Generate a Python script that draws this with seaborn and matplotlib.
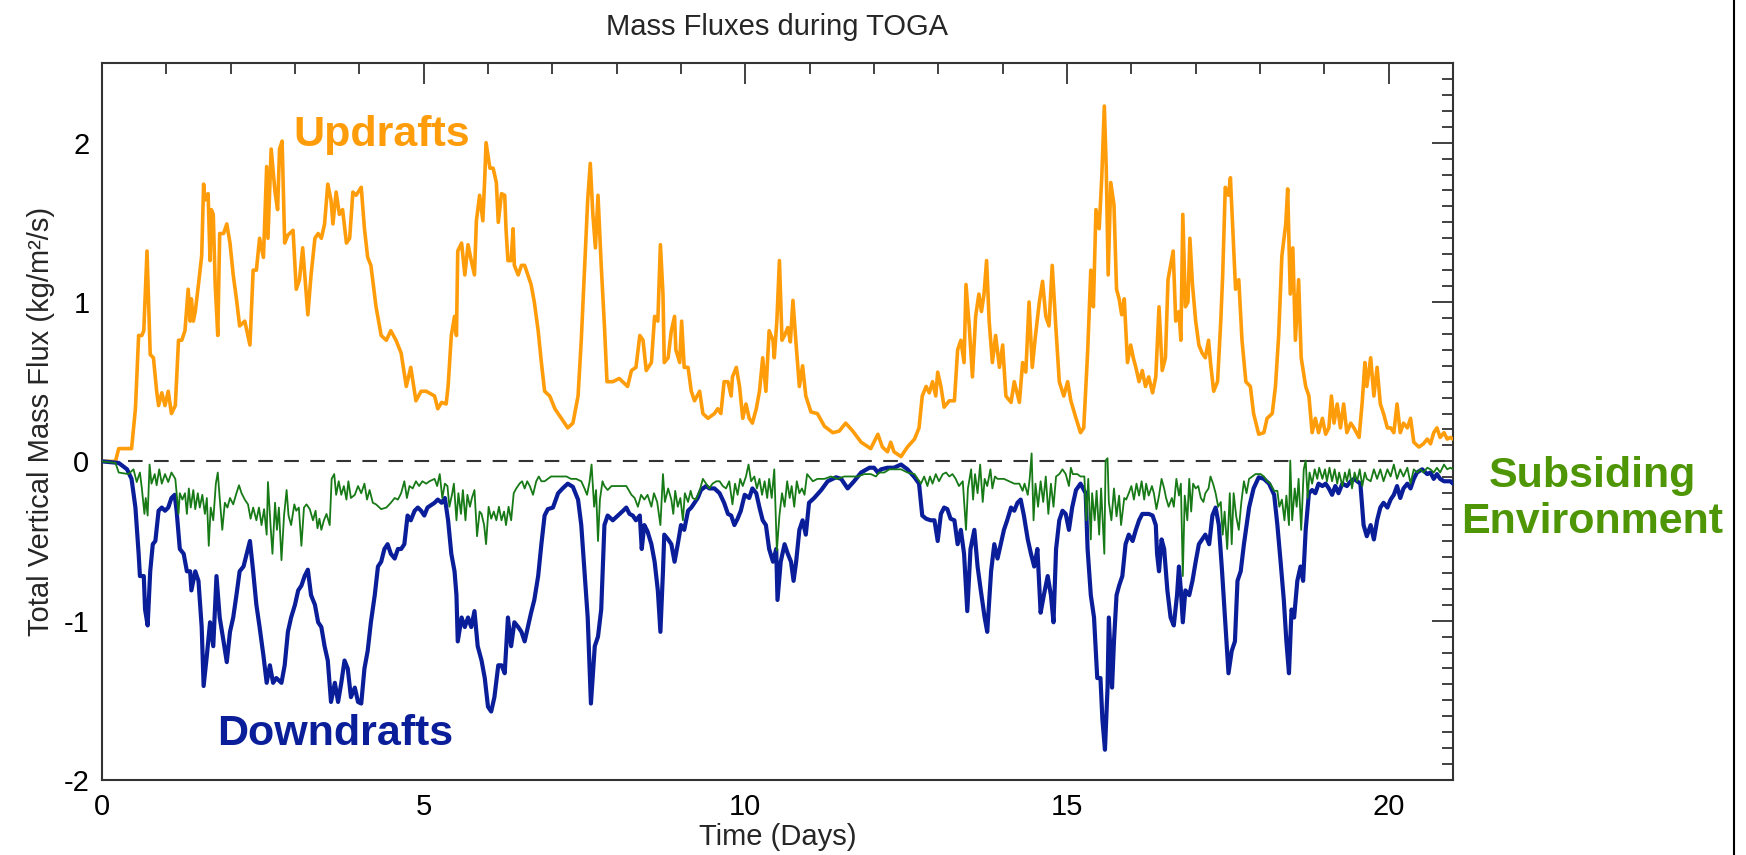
import numpy as np
import pandas as pd
import matplotlib
matplotlib.use('Agg')
import matplotlib.pyplot as plt
from matplotlib.lines import Line2D
from matplotlib.ticker import MultipleLocator
import seaborn as sns

# ============================================================================
# DATA - (day, total vertical mass flux in kg/m^2/s)
# ============================================================================
updrafts = [
    (0.00, 0.00), (0.21, 0.00), (0.26, 0.08), (0.46, 0.08), (0.52, 0.33), (0.57, 0.79), (0.62, 0.79),
    (0.65, 0.82), (0.70, 1.32), (0.75, 0.67), (0.80, 0.65), (0.85, 0.44), (0.88, 0.35), (0.93, 0.43),
    (0.98, 0.35), (1.03, 0.44), (1.08, 0.30), (1.14, 0.35), (1.19, 0.76), (1.24, 0.76), (1.29, 0.82),
    (1.34, 1.08), (1.37, 0.88), (1.39, 1.02), (1.42, 0.88), (1.45, 0.94), (1.50, 1.11), (1.55, 1.29),
    (1.58, 1.74), (1.60, 1.64), (1.65, 1.68), (1.68, 1.26), (1.70, 1.58), (1.73, 1.55), (1.76, 1.11),
    (1.80, 0.79), (1.83, 1.43), (1.89, 1.43), (1.94, 1.49), (1.99, 1.37), (2.04, 1.17), (2.09, 1.02),
    (2.14, 0.85), (2.22, 0.88), (2.30, 0.73), (2.35, 1.20), (2.40, 1.20), (2.45, 1.40), (2.51, 1.28),
    (2.56, 1.85), (2.58, 1.40), (2.63, 1.96), (2.69, 1.69), (2.73, 1.58), (2.76, 1.96), (2.80, 2.01),
    (2.84, 1.37), (2.89, 1.42), (2.97, 1.45), (3.02, 1.08), (3.07, 1.14), (3.12, 1.34), (3.20, 0.92),
    (3.25, 1.17), (3.31, 1.40), (3.36, 1.43), (3.41, 1.40), (3.46, 1.49), (3.51, 1.74), (3.56, 1.64),
    (3.59, 1.49), (3.64, 1.69), (3.69, 1.55), (3.74, 1.58), (3.80, 1.37), (3.85, 1.40), (3.90, 1.69),
    (3.95, 1.67), (4.03, 1.72), (4.08, 1.46), (4.13, 1.28), (4.18, 1.23), (4.26, 0.97), (4.34, 0.79),
    (4.42, 0.76), (4.49, 0.82), (4.57, 0.76), (4.65, 0.68), (4.73, 0.47), (4.80, 0.59), (4.88, 0.38),
    (4.96, 0.44), (5.04, 0.44), (5.17, 0.41), (5.22, 0.33), (5.28, 0.37), (5.35, 0.36), (5.38, 0.47),
    (5.43, 0.79), (5.48, 0.91), (5.51, 0.79), (5.53, 1.32), (5.59, 1.37), (5.64, 1.17), (5.69, 1.36),
    (5.74, 1.26), (5.79, 1.17), (5.82, 1.51), (5.87, 1.67), (5.92, 1.51), (5.95, 1.78), (5.97, 2.00),
    (6.03, 1.84), (6.08, 1.84), (6.13, 1.75), (6.16, 1.50), (6.21, 1.68), (6.26, 1.67), (6.28, 1.46),
    (6.31, 1.26), (6.36, 1.26), (6.39, 1.46), (6.41, 1.23), (6.47, 1.17), (6.52, 1.23), (6.57, 1.23),
    (6.62, 1.17), (6.67, 1.11), (6.72, 1.00), (6.78, 0.82), (6.83, 0.62), (6.88, 0.44), (6.96, 0.41),
    (7.04, 0.33), (7.14, 0.27), (7.24, 0.21), (7.32, 0.24), (7.40, 0.41), (7.45, 0.76), (7.50, 1.20),
    (7.55, 1.64), (7.59, 1.87), (7.63, 1.55), (7.67, 1.34), (7.71, 1.67), (7.76, 1.23), (7.81, 0.85),
    (7.85, 0.50), (7.94, 0.50), (8.04, 0.52), (8.17, 0.47), (8.23, 0.57), (8.30, 0.59), (8.36, 0.79),
    (8.41, 0.76), (8.46, 0.57), (8.54, 0.62), (8.59, 0.91), (8.64, 0.88), (8.68, 1.36), (8.72, 1.05),
    (8.74, 0.62), (8.80, 0.65), (8.85, 0.82), (8.90, 0.91), (8.92, 0.70), (8.98, 0.62), (9.01, 0.88),
    (9.05, 0.59), (9.11, 0.59), (9.16, 0.44), (9.21, 0.38), (9.29, 0.44), (9.34, 0.30), (9.42, 0.27),
    (9.52, 0.30), (9.57, 0.33), (9.62, 0.30), (9.67, 0.50), (9.73, 0.50), (9.78, 0.41), (9.80, 0.53),
    (9.86, 0.59), (9.91, 0.47), (9.96, 0.27), (10.01, 0.36), (10.06, 0.27), (10.11, 0.24), (10.17, 0.33),
    (10.22, 0.44), (10.27, 0.65), (10.32, 0.44), (10.37, 0.82), (10.43, 0.76), (10.45, 0.65), (10.49, 0.88),
    (10.53, 1.26), (10.57, 0.76), (10.61, 0.79), (10.66, 0.84), (10.70, 0.75), (10.74, 1.01), (10.79, 0.73),
    (10.84, 0.47), (10.89, 0.60), (10.94, 0.41), (11.02, 0.31), (11.12, 0.30), (11.23, 0.22), (11.36, 0.18),
    (11.46, 0.19), (11.56, 0.24), (11.67, 0.19), (11.80, 0.12), (11.95, 0.08), (12.06, 0.17), (12.13, 0.09),
    (12.21, 0.06), (12.26, 0.12), (12.31, 0.06), (12.42, 0.03), (12.52, 0.09), (12.63, 0.14), (12.70, 0.21),
    (12.75, 0.41), (12.81, 0.47), (12.86, 0.43), (12.91, 0.50), (12.96, 0.41), (12.99, 0.56), (13.04, 0.47),
    (13.09, 0.34), (13.17, 0.38), (13.25, 0.38), (13.30, 0.70), (13.35, 0.76), (13.40, 0.62), (13.43, 1.11),
    (13.48, 0.85), (13.53, 0.53), (13.58, 0.91), (13.63, 1.05), (13.67, 0.94), (13.71, 1.05), (13.75, 1.26),
    (13.79, 0.88), (13.84, 0.62), (13.89, 0.79), (13.95, 0.59), (14.00, 0.73), (14.05, 0.41), (14.13, 0.37),
    (14.18, 0.50), (14.26, 0.37), (14.31, 0.62), (14.36, 0.56), (14.41, 1.00), (14.46, 0.59), (14.51, 0.79),
    (14.57, 1.00), (14.62, 1.13), (14.67, 0.91), (14.72, 0.85), (14.77, 1.23), (14.83, 0.82), (14.88, 0.50),
    (14.95, 0.41), (15.01, 0.50), (15.06, 0.38), (15.14, 0.27), (15.21, 0.18), (15.26, 0.21), (15.32, 0.68),
    (15.37, 1.20), (15.41, 0.97), (15.45, 1.58), (15.50, 1.46), (15.54, 1.78), (15.58, 2.23), (15.61, 1.84),
    (15.64, 1.17), (15.68, 1.75), (15.73, 1.61), (15.77, 1.08), (15.81, 1.02), (15.85, 0.92), (15.89, 1.02),
    (15.94, 0.62), (15.99, 0.73), (16.03, 0.65), (16.07, 0.59), (16.12, 0.50), (16.17, 0.57), (16.22, 0.47),
    (16.27, 0.53), (16.33, 0.43), (16.38, 0.53), (16.43, 0.97), (16.48, 0.57), (16.53, 0.65), (16.57, 1.14),
    (16.61, 1.23), (16.65, 1.32), (16.69, 0.88), (16.74, 0.94), (16.77, 0.76), (16.80, 1.55), (16.84, 0.97),
    (16.88, 1.00), (16.91, 1.40), (16.95, 1.11), (17.00, 0.88), (17.05, 0.73), (17.10, 0.68), (17.15, 0.65),
    (17.20, 0.76), (17.23, 0.62), (17.28, 0.44), (17.34, 0.50), (17.39, 0.88), (17.42, 1.17), (17.46, 1.72),
    (17.51, 1.67), (17.54, 1.78), (17.58, 1.43), (17.62, 1.08), (17.67, 1.14), (17.72, 0.76), (17.78, 0.50),
    (17.85, 0.47), (17.90, 0.30), (17.98, 0.17), (18.06, 0.18), (18.11, 0.27), (18.19, 0.30), (18.24, 0.47),
    (18.29, 0.79), (18.34, 1.29), (18.40, 1.49), (18.43, 1.71), (18.47, 1.05), (18.51, 1.34), (18.55, 0.76),
    (18.60, 1.14), (18.64, 0.65), (18.71, 0.47), (18.76, 0.41), (18.81, 0.18), (18.86, 0.27), (18.91, 0.18),
    (18.97, 0.27), (19.02, 0.17), (19.07, 0.21), (19.11, 0.41), (19.15, 0.24), (19.20, 0.36), (19.25, 0.21),
    (19.30, 0.36), (19.35, 0.18), (19.41, 0.24), (19.46, 0.21), (19.54, 0.15), (19.59, 0.38), (19.63, 0.62),
    (19.66, 0.47), (19.72, 0.65), (19.77, 0.41), (19.82, 0.59), (19.87, 0.36), (19.92, 0.30), (19.98, 0.21),
    (20.03, 0.21), (20.08, 0.18), (20.13, 0.36), (20.18, 0.18), (20.23, 0.24), (20.29, 0.21), (20.34, 0.27),
    (20.39, 0.12), (20.47, 0.09), (20.54, 0.11), (20.60, 0.14), (20.65, 0.11), (20.70, 0.18), (20.75, 0.21),
    (20.80, 0.15), (20.86, 0.18), (20.91, 0.14), (20.96, 0.15), (21.00, 0.14),
]

downdrafts = [
    (0.00, 0.00), (0.26, -0.01), (0.39, -0.05), (0.46, -0.11), (0.52, -0.29), (0.57, -0.58), (0.59, -0.72),
    (0.65, -0.72), (0.67, -0.93), (0.71, -1.03), (0.75, -0.69), (0.79, -0.52), (0.83, -0.50), (0.88, -0.31),
    (0.93, -0.29), (0.98, -0.31), (1.03, -0.29), (1.08, -0.23), (1.13, -0.21), (1.16, -0.31), (1.21, -0.55),
    (1.27, -0.58), (1.32, -0.69), (1.37, -0.69), (1.39, -0.81), (1.45, -0.69), (1.50, -0.75), (1.55, -1.04),
    (1.58, -1.41), (1.63, -1.22), (1.68, -1.01), (1.73, -1.16), (1.78, -0.72), (1.83, -0.98), (1.89, -1.13),
    (1.94, -1.26), (1.99, -1.07), (2.04, -0.98), (2.09, -0.84), (2.14, -0.69), (2.20, -0.66), (2.25, -0.58),
    (2.30, -0.50), (2.35, -0.69), (2.40, -0.90), (2.45, -1.04), (2.51, -1.22), (2.56, -1.39), (2.61, -1.28),
    (2.66, -1.39), (2.71, -1.36), (2.79, -1.39), (2.84, -1.28), (2.89, -1.07), (2.94, -0.98), (3.00, -0.90),
    (3.05, -0.81), (3.10, -0.78), (3.15, -0.72), (3.20, -0.68), (3.25, -0.84), (3.31, -0.90), (3.36, -1.01),
    (3.41, -1.04), (3.46, -1.16), (3.51, -1.25), (3.56, -1.51), (3.62, -1.39), (3.67, -1.51), (3.72, -1.39),
    (3.77, -1.25), (3.82, -1.30), (3.87, -1.48), (3.93, -1.42), (3.98, -1.51), (4.03, -1.52), (4.08, -1.30),
    (4.13, -1.19), (4.18, -1.01), (4.24, -0.84), (4.29, -0.66), (4.34, -0.63), (4.39, -0.55), (4.44, -0.52),
    (4.49, -0.58), (4.55, -0.61), (4.60, -0.55), (4.65, -0.55), (4.70, -0.52), (4.75, -0.34), (4.80, -0.37),
    (4.86, -0.31), (4.91, -0.29), (4.96, -0.31), (5.01, -0.34), (5.06, -0.29), (5.17, -0.26), (5.22, -0.24),
    (5.28, -0.26), (5.33, -0.23), (5.38, -0.37), (5.43, -0.58), (5.48, -0.69), (5.51, -0.84), (5.53, -1.13),
    (5.59, -0.98), (5.64, -1.04), (5.69, -0.98), (5.74, -1.04), (5.79, -0.94), (5.84, -1.16), (5.90, -1.25),
    (5.95, -1.36), (6.00, -1.54), (6.05, -1.57), (6.10, -1.48), (6.16, -1.28), (6.21, -1.28), (6.26, -1.33),
    (6.31, -0.98), (6.36, -1.16), (6.41, -1.01), (6.47, -1.04), (6.52, -1.07), (6.57, -1.13), (6.62, -1.04),
    (6.67, -0.95), (6.72, -0.87), (6.78, -0.72), (6.83, -0.52), (6.88, -0.34), (6.93, -0.30), (7.01, -0.29),
    (7.09, -0.20), (7.16, -0.17), (7.24, -0.14), (7.32, -0.16), (7.40, -0.24), (7.45, -0.40), (7.50, -0.69),
    (7.55, -0.98), (7.60, -1.52), (7.66, -1.16), (7.71, -1.10), (7.76, -0.93), (7.81, -0.40), (7.86, -0.34),
    (7.94, -0.37), (8.02, -0.34), (8.10, -0.31), (8.15, -0.29), (8.20, -0.33), (8.25, -0.34), (8.30, -0.37),
    (8.36, -0.34), (8.39, -0.55), (8.43, -0.40), (8.48, -0.44), (8.54, -0.52), (8.59, -0.63), (8.64, -0.81),
    (8.68, -1.07), (8.72, -0.69), (8.74, -0.46), (8.80, -0.49), (8.85, -0.52), (8.90, -0.63), (8.95, -0.52),
    (9.00, -0.40), (9.05, -0.43), (9.11, -0.31), (9.16, -0.29), (9.21, -0.26), (9.26, -0.23), (9.31, -0.18),
    (9.39, -0.155), (9.44, -0.17), (9.52, -0.17), (9.60, -0.20), (9.67, -0.26), (9.73, -0.33), (9.78, -0.34),
    (9.83, -0.40), (9.88, -0.36), (9.93, -0.31), (9.99, -0.21), (10.06, -0.23), (10.11, -0.17), (10.17, -0.20),
    (10.22, -0.29), (10.27, -0.37), (10.32, -0.40), (10.37, -0.55), (10.43, -0.63), (10.48, -0.55),
    (10.50, -0.87), (10.55, -0.63), (10.61, -0.52), (10.66, -0.58), (10.71, -0.63), (10.75, -0.75),
    (10.79, -0.63), (10.84, -0.43), (10.89, -0.37), (10.94, -0.46), (10.99, -0.26), (11.07, -0.23),
    (11.18, -0.18), (11.28, -0.125), (11.41, -0.10), (11.49, -0.11), (11.59, -0.17), (11.69, -0.125),
    (11.80, -0.07), (11.93, -0.04), (12.00, -0.04), (12.06, -0.07), (12.11, -0.05), (12.21, -0.04),
    (12.31, -0.04), (12.42, -0.02), (12.52, -0.05), (12.63, -0.10), (12.70, -0.14), (12.75, -0.34),
    (12.81, -0.36), (12.88, -0.37), (12.94, -0.37), (12.99, -0.50), (13.04, -0.33), (13.09, -0.29),
    (13.14, -0.30), (13.19, -0.36), (13.25, -0.37), (13.30, -0.52), (13.35, -0.43), (13.40, -0.58),
    (13.45, -0.94), (13.50, -0.55), (13.56, -0.43), (13.61, -0.66), (13.66, -0.81), (13.72, -0.98),
    (13.76, -1.07), (13.82, -0.69), (13.87, -0.52), (13.92, -0.61), (13.97, -0.52), (14.02, -0.43),
    (14.07, -0.37), (14.13, -0.29), (14.18, -0.31), (14.23, -0.26), (14.28, -0.24), (14.33, -0.34),
    (14.39, -0.49), (14.44, -0.58), (14.49, -0.66), (14.54, -0.55), (14.59, -0.95), (14.64, -0.84),
    (14.70, -0.72), (14.75, -0.84), (14.79, -1.01), (14.83, -0.55), (14.88, -0.37), (14.93, -0.31),
    (14.98, -0.33), (15.03, -0.43), (15.08, -0.29), (15.14, -0.18), (15.21, -0.14), (15.29, -0.20),
    (15.32, -0.55), (15.37, -0.84), (15.42, -0.98), (15.47, -1.36), (15.52, -1.36), (15.55, -1.62),
    (15.59, -1.81), (15.63, -1.42), (15.65, -0.98), (15.70, -1.42), (15.73, -1.13), (15.77, -0.84),
    (15.81, -0.78), (15.86, -0.72), (15.91, -0.52), (15.96, -0.46), (16.02, -0.50), (16.07, -0.43),
    (16.12, -0.37), (16.17, -0.33), (16.22, -0.33), (16.27, -0.33), (16.33, -0.34), (16.38, -0.40),
    (16.40, -0.58), (16.43, -0.69), (16.47, -0.49), (16.51, -0.55), (16.56, -0.81), (16.61, -0.98),
    (16.66, -1.03), (16.71, -0.84), (16.74, -0.66), (16.77, -0.81), (16.80, -1.01), (16.84, -0.81),
    (16.90, -0.84), (16.95, -0.75), (17.00, -0.63), (17.05, -0.52), (17.10, -0.49), (17.15, -0.46),
    (17.21, -0.52), (17.26, -0.34), (17.31, -0.29), (17.36, -0.40), (17.41, -0.69), (17.46, -1.01),
    (17.51, -1.33), (17.56, -1.19), (17.61, -1.13), (17.65, -0.75), (17.70, -0.69), (17.75, -0.52),
    (17.83, -0.29), (17.90, -0.17), (17.98, -0.10), (18.06, -0.11), (18.14, -0.14), (18.22, -0.21),
    (18.27, -0.40), (18.32, -0.63), (18.37, -0.87), (18.41, -1.13), (18.45, -1.33), (18.49, -0.93),
    (18.53, -0.98), (18.58, -0.75), (18.63, -0.66), (18.67, -0.75), (18.71, -0.43), (18.76, -0.20),
    (18.81, -0.18), (18.86, -0.20), (18.91, -0.14), (18.97, -0.155), (19.02, -0.14), (19.07, -0.17),
    (19.12, -0.21), (19.17, -0.155), (19.22, -0.20), (19.28, -0.14), (19.35, -0.155), (19.41, -0.125),
    (19.46, -0.11), (19.51, -0.125), (19.56, -0.14), (19.61, -0.40), (19.66, -0.47), (19.72, -0.40),
    (19.77, -0.49), (19.82, -0.37), (19.87, -0.29), (19.92, -0.26), (19.98, -0.29), (20.03, -0.24),
    (20.08, -0.21), (20.13, -0.155), (20.18, -0.23), (20.23, -0.17), (20.29, -0.14), (20.34, -0.17),
    (20.39, -0.11), (20.44, -0.07), (20.52, -0.05), (20.60, -0.08), (20.65, -0.07), (20.70, -0.11),
    (20.75, -0.08), (20.80, -0.11), (20.86, -0.125), (20.91, -0.125), (20.96, -0.125), (21.00, -0.14),
]

environment = [
    (0.00, 0.00), (0.21, -0.01), (0.26, -0.07), (0.41, -0.08), (0.49, -0.05), (0.54, -0.13), (0.59, -0.07),
    (0.62, -0.17), (0.66, -0.33), (0.68, -0.23), (0.71, -0.34), (0.74, -0.02), (0.77, -0.14), (0.82, -0.08),
    (0.85, -0.15), (0.89, -0.05), (0.93, -0.14), (0.98, -0.08), (1.03, -0.13), (1.08, -0.07), (1.14, -0.11),
    (1.16, -0.20), (1.19, -0.33), (1.21, -0.20), (1.25, -0.24), (1.29, -0.20), (1.32, -0.33), (1.35, -0.17),
    (1.38, -0.29), (1.42, -0.18), (1.45, -0.30), (1.49, -0.20), (1.52, -0.29), (1.56, -0.21), (1.60, -0.33),
    (1.63, -0.23), (1.66, -0.53), (1.69, -0.29), (1.73, -0.37), (1.77, -0.14), (1.80, -0.07), (1.83, -0.23),
    (1.87, -0.43), (1.91, -0.26), (1.95, -0.29), (1.99, -0.23), (2.04, -0.27), (2.09, -0.20), (2.13, -0.15),
    (2.17, -0.20), (2.22, -0.24), (2.27, -0.27), (2.31, -0.36), (2.35, -0.29), (2.40, -0.37), (2.44, -0.29),
    (2.48, -0.40), (2.52, -0.30), (2.56, -0.46), (2.58, -0.13), (2.62, -0.40), (2.65, -0.58), (2.69, -0.26),
    (2.72, -0.43), (2.75, -0.29), (2.79, -0.62), (2.83, -0.34), (2.87, -0.18), (2.90, -0.34), (2.94, -0.40),
    (2.99, -0.27), (3.02, -0.31), (3.06, -0.29), (3.10, -0.53), (3.14, -0.29), (3.18, -0.27), (3.23, -0.30),
    (3.28, -0.37), (3.32, -0.31), (3.35, -0.42), (3.38, -0.36), (3.41, -0.43), (3.45, -0.37), (3.49, -0.33),
    (3.54, -0.40), (3.57, -0.11), (3.61, -0.08), (3.64, -0.21), (3.68, -0.125), (3.72, -0.21), (3.76, -0.155),
    (3.80, -0.24), (3.83, -0.125), (3.87, -0.23), (3.93, -0.21), (3.98, -0.155), (4.03, -0.20), (4.08, -0.14),
    (4.12, -0.24), (4.16, -0.18), (4.21, -0.26), (4.26, -0.27), (4.34, -0.30), (4.42, -0.29), (4.49, -0.26),
    (4.55, -0.23), (4.60, -0.24), (4.65, -0.20), (4.70, -0.125), (4.74, -0.23), (4.78, -0.155), (4.83, -0.17),
    (4.88, -0.125), (4.93, -0.155), (4.98, -0.125), (5.04, -0.14), (5.09, -0.125), (5.17, -0.11),
    (5.21, -0.155), (5.25, -0.08), (5.29, -0.23), (5.33, -0.14), (5.37, -0.155), (5.40, -0.285),
    (5.44, -0.21), (5.47, -0.14), (5.51, -0.37), (5.54, -0.20), (5.58, -0.33), (5.61, -0.18), (5.65, -0.37),
    (5.68, -0.21), (5.72, -0.285), (5.75, -0.23), (5.79, -0.18), (5.83, -0.47), (5.87, -0.315), (5.90, -0.33),
    (5.94, -0.40), (5.97, -0.52), (6.01, -0.285), (6.05, -0.36), (6.09, -0.315), (6.13, -0.37), (6.17, -0.285),
    (6.21, -0.37), (6.25, -0.315), (6.28, -0.40), (6.32, -0.285), (6.36, -0.37), (6.40, -0.20), (6.44, -0.17),
    (6.49, -0.14), (6.53, -0.125), (6.57, -0.17), (6.61, -0.125), (6.65, -0.155), (6.70, -0.21),
    (6.75, -0.125), (6.79, -0.095), (6.83, -0.125), (6.88, -0.125), (6.93, -0.11), (6.98, -0.095),
    (7.06, -0.095), (7.14, -0.095), (7.22, -0.095), (7.29, -0.11), (7.37, -0.11), (7.45, -0.125),
    (7.50, -0.17), (7.54, -0.21), (7.58, -0.125), (7.61, -0.02), (7.65, -0.285), (7.68, -0.18), (7.71, -0.50),
    (7.74, -0.24), (7.78, -0.125), (7.81, -0.155), (7.86, -0.18), (7.92, -0.155), (7.99, -0.155),
    (8.07, -0.155), (8.15, -0.155), (8.23, -0.21), (8.28, -0.23), (8.33, -0.285), (8.38, -0.21), (8.43, -0.24),
    (8.48, -0.21), (8.54, -0.285), (8.58, -0.20), (8.63, -0.255), (8.68, -0.40), (8.72, -0.08), (8.75, -0.255),
    (8.80, -0.17), (8.85, -0.24), (8.88, -0.33), (8.91, -0.185), (8.95, -0.285), (8.99, -0.23), (9.03, -0.37),
    (9.06, -0.20), (9.11, -0.255), (9.15, -0.185), (9.18, -0.23), (9.23, -0.24), (9.29, -0.185), (9.34, -0.11),
    (9.39, -0.14), (9.44, -0.17), (9.49, -0.14), (9.55, -0.125), (9.60, -0.125), (9.65, -0.155), (9.70, -0.17),
    (9.75, -0.125), (9.80, -0.27), (9.84, -0.14), (9.88, -0.21), (9.92, -0.11), (9.96, -0.155), (10.01, -0.095),
    (10.05, -0.02), (10.09, -0.125), (10.14, -0.095), (10.18, -0.17), (10.22, -0.11), (10.26, -0.21),
    (10.30, -0.125), (10.34, -0.23), (10.37, -0.11), (10.41, -0.23), (10.45, -0.05), (10.49, -0.56),
    (10.53, -0.34), (10.57, -0.20), (10.61, -0.285), (10.65, -0.125), (10.69, -0.23), (10.72, -0.155),
    (10.76, -0.285), (10.80, -0.125), (10.84, -0.20), (10.88, -0.17), (10.92, -0.21), (10.96, -0.08),
    (10.99, -0.095), (11.05, -0.125), (11.12, -0.11), (11.23, -0.11), (11.33, -0.095), (11.43, -0.11),
    (11.54, -0.095), (11.64, -0.095), (11.75, -0.095), (11.85, -0.08), (11.95, -0.08), (12.03, -0.095),
    (12.08, -0.07), (12.16, -0.07), (12.24, -0.05), (12.31, -0.05), (12.42, -0.05), (12.52, -0.07),
    (12.63, -0.08), (12.68, -0.11), (12.73, -0.14), (12.78, -0.095), (12.83, -0.155), (12.87, -0.095),
    (12.91, -0.14), (12.96, -0.08), (13.01, -0.125), (13.07, -0.08), (13.12, -0.07), (13.17, -0.095),
    (13.22, -0.08), (13.27, -0.11), (13.32, -0.155), (13.38, -0.125), (13.43, -0.43), (13.46, -0.17),
    (13.51, -0.05), (13.54, -0.24), (13.57, -0.08), (13.61, -0.20), (13.65, -0.02), (13.69, -0.255),
    (13.72, -0.11), (13.76, -0.155), (13.81, -0.05), (13.84, -0.17), (13.88, -0.095), (13.92, -0.11),
    (13.97, -0.11), (14.02, -0.11), (14.10, -0.125), (14.18, -0.14), (14.26, -0.14), (14.31, -0.185),
    (14.34, -0.14), (14.39, -0.21), (14.42, -0.11), (14.45, 0.05), (14.48, -0.37), (14.51, -0.14),
    (14.55, -0.285), (14.59, -0.125), (14.63, -0.255), (14.67, -0.095), (14.71, -0.33), (14.75, -0.14),
    (14.79, -0.285), (14.83, -0.095), (14.88, -0.08), (14.93, -0.05), (14.98, -0.08), (15.03, -0.155),
    (15.06, -0.04), (15.09, -0.08), (15.16, -0.08), (15.21, -0.095), (15.27, -0.095), (15.30, -0.37),
    (15.33, -0.11), (15.37, -0.49), (15.39, -0.20), (15.43, -0.37), (15.46, -0.185), (15.50, -0.46),
    (15.53, -0.17), (15.58, -0.58), (15.60, 0.005), (15.63, 0.02), (15.65, -0.255), (15.69, -0.37),
    (15.73, -0.17), (15.77, -0.345), (15.81, -0.215), (15.84, -0.40), (15.89, -0.23), (15.92, -0.24),
    (15.96, -0.20), (16.00, -0.155), (16.04, -0.24), (16.08, -0.14), (16.12, -0.215), (16.16, -0.125),
    (16.20, -0.24), (16.23, -0.14), (16.27, -0.215), (16.32, -0.155), (16.35, -0.20), (16.39, -0.30),
    (16.43, -0.215), (16.47, -0.11), (16.51, -0.17), (16.54, -0.23), (16.58, -0.285), (16.63, -0.23),
    (16.66, -0.285), (16.70, -0.11), (16.74, -0.215), (16.77, -0.14), (16.80, -0.72), (16.83, -0.215),
    (16.87, -0.37), (16.90, -0.11), (16.93, -0.315), (16.96, -0.14), (17.00, -0.17), (17.04, -0.155),
    (17.08, -0.23), (17.12, -0.255), (17.15, -0.20), (17.20, -0.17), (17.23, -0.095), (17.27, -0.14),
    (17.31, -0.20), (17.35, -0.285), (17.39, -0.255), (17.42, -0.46), (17.45, -0.315), (17.49, -0.55),
    (17.53, -0.20), (17.56, -0.52), (17.59, -0.20), (17.63, -0.345), (17.67, -0.43), (17.71, -0.255),
    (17.75, -0.125), (17.79, -0.20), (17.83, -0.11), (17.88, -0.095), (17.93, -0.08), (18.01, -0.08),
    (18.06, -0.095), (18.11, -0.125), (18.16, -0.14), (18.22, -0.185), (18.27, -0.185), (18.30, -0.285),
    (18.34, -0.24), (18.38, -0.37), (18.41, -0.215), (18.45, -0.40), (18.47, 0.005), (18.50, -0.37),
    (18.54, -0.17), (18.57, -0.285), (18.60, -0.11), (18.64, -0.43), (18.68, -0.05), (18.71, 0.005),
    (18.74, -0.23), (18.77, -0.07), (18.81, -0.14), (18.85, -0.05), (18.89, -0.11), (18.92, -0.04),
    (18.97, -0.11), (19.01, -0.05), (19.04, -0.125), (19.08, -0.04), (19.12, -0.125), (19.16, -0.05),
    (19.20, -0.14), (19.23, -0.07), (19.28, -0.155), (19.32, -0.07), (19.35, -0.125), (19.39, -0.05),
    (19.43, -0.17), (19.47, -0.07), (19.51, -0.125), (19.55, -0.05), (19.59, -0.155), (19.63, -0.07),
    (19.66, -0.11), (19.72, -0.125), (19.77, -0.05), (19.82, -0.11), (19.87, -0.05), (19.92, -0.125),
    (19.98, -0.05), (20.03, -0.095), (20.08, -0.02), (20.13, -0.11), (20.18, -0.05), (20.23, -0.095),
    (20.29, -0.04), (20.34, -0.14), (20.39, -0.05), (20.44, -0.07), (20.49, -0.05), (20.54, -0.07),
    (20.60, -0.04), (20.65, -0.05), (20.70, -0.07), (20.75, -0.04), (20.80, -0.07), (20.86, -0.02),
    (20.91, -0.05), (20.96, -0.04), (21.00, -0.05),
]

X_TICKS = [0, 5, 10, 15, 20]
Y_TICKS = [-2, -1, 0, 1, 2]

ORANGE = '#FF9C0A'
BLUE = '#0A1E9A'
GREEN = '#177A17'
GREEN_TEXT = '#4E9606'

# ============================================================================
# STYLE
# ============================================================================
sns.set_theme(style='white')
plt.rcParams['font.family'] = ['Liberation Sans', 'DejaVu Sans']

up = pd.DataFrame(updrafts, columns=['day', 'flux'])
down = pd.DataFrame(downdrafts, columns=['day', 'flux'])
env = pd.DataFrame(environment, columns=['day', 'flux'])

fig = plt.figure(figsize=(17.46, 8.55), dpi=100)
fig.patch.set_facecolor('white')
ax = fig.add_axes([0.0584, 0.0877, 0.7738, 0.8386])

ax.axhline(0, color='#333333', lw=1.5, dashes=(7, 5.5), zorder=1)

sns.lineplot(data=up, x='day', y='flux', ax=ax, color=ORANGE, linewidth=2.6,
             estimator=None, sort=False, zorder=3)
sns.lineplot(data=down, x='day', y='flux', ax=ax, color=BLUE, linewidth=3.0,
             estimator=None, sort=False, zorder=3)
sns.lineplot(data=env, x='day', y='flux', ax=ax, color=GREEN, linewidth=1.3,
             estimator=None, sort=False, zorder=4)

ax.set_xlim(0, 21)
ax.set_ylim(-2, 2.5)
ax.set_xticks(X_TICKS)
ax.set_yticks(Y_TICKS)
ax.set_xticklabels([str(t) for t in X_TICKS])
ax.set_yticklabels([str(t) for t in Y_TICKS])
ax.xaxis.set_minor_locator(MultipleLocator(1))
ax.yaxis.set_minor_locator(MultipleLocator(0.1))

ax.tick_params(which='both', direction='in', top=True, right=True, color='#333333',
               labelsize=21, labelcolor='black')
ax.tick_params(which='major', length=15, width=1.3)
ax.tick_params(which='minor', length=8, width=1.3)
ax.tick_params(axis='x', which='major', pad=9)
ax.tick_params(axis='y', which='major', pad=9)
for side in ax.spines.values():
    side.set_linewidth(1.5)
    side.set_color('#333333')

ax.set_xlabel('Time (Days)', fontsize=21, labelpad=2)
ax.set_ylabel('Total Vertical Mass Flux (kg/m\u00b2/s)', fontsize=21, labelpad=6)
ax.set_title('Mass Fluxes during TOGA', fontsize=21, pad=20)

# series labels
ax.text(2.97, 2.05, 'Updrafts', fontsize=31, fontweight='bold', color=ORANGE,
        ha='left', va='center')
ax.text(3.63, -1.71, 'Downdrafts', fontsize=31, fontweight='bold', color=BLUE,
        ha='center', va='center')
fig.text(0.912, 0.416, 'Subsiding\nEnvironment', fontsize=31, fontweight='bold',
         color=GREEN_TEXT, ha='center', va='center', multialignment='center')

# thin frame line at the right edge of the slide
fig.add_artist(Line2D([0.993, 0.993], [0, 1], transform=fig.transFigure,
                      color='black', lw=1.5))

fig.savefig('out.png', dpi=100)
